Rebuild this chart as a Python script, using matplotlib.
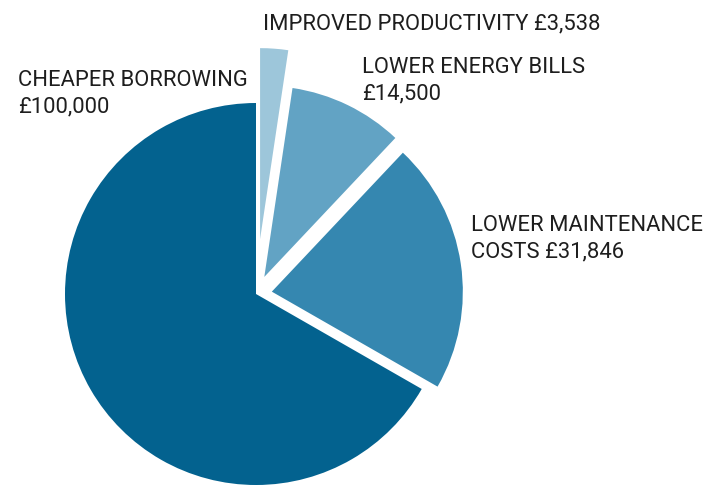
import matplotlib
matplotlib.use("Agg")
import matplotlib.pyplot as plt

# Data
categories = ["CHEAPER BORROWING", "LOWER MAINTENANCE COSTS", "LOWER ENERGY BILLS", "IMPROVED PRODUCTIVITY"]
values = [100000, 31846, 14500, 3538]
colors = ["#03628f", "#3587b0", "#62a3c4", "#9dc6da"]
label_texts = ["CHEAPER BORROWING\n£100,000",
               "LOWER MAINTENANCE\nCOSTS £31,846",
               "LOWER ENERGY BILLS\n£14,500",
               "IMPROVED PRODUCTIVITY £3,538"]

W, H = 706, 487
fig = plt.figure(figsize=(W / 100, H / 100), dpi=100)
ax = fig.add_axes([0, 0, 1, 1])

cx, cy, r = 256, H - 294, 191
explode = [0, 16, 19, 55]
ax.pie(values, colors=colors, startangle=90, counterclock=True,
       center=(cx, cy), radius=r, explode=explode, frame=True,
       wedgeprops=dict(linewidth=0))
ax.set_xlim(0, W)
ax.set_ylim(0, H)
ax.axis("off")

font = dict(family="Roboto", fontsize=15.8, color="#1e1e1e", linespacing=1.32)
pos = [(18, 70), (471, 215), (362, 57), (263, 13)]
for (x, y), t in zip(pos, label_texts):
    ax.text(x, H - y, t, ha="left", va="top", **font)

fig.savefig("out.png", dpi=100)
